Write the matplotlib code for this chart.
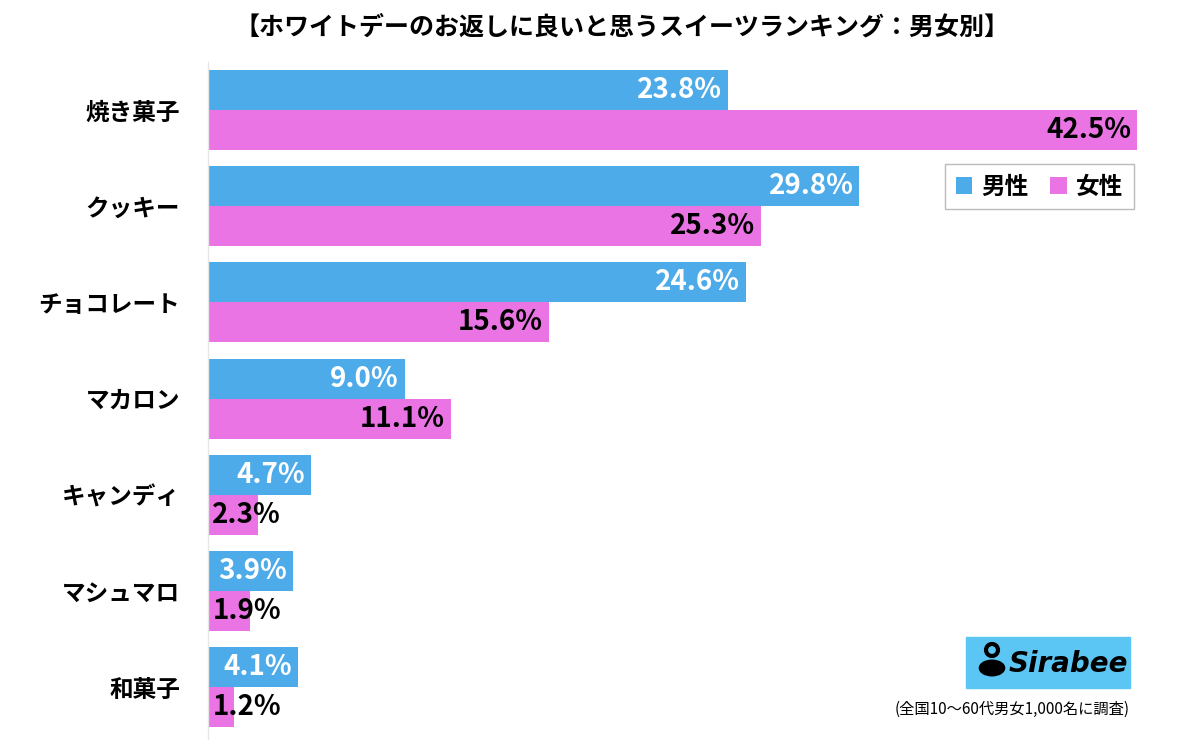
import matplotlib.pyplot as plt
import matplotlib.patches as mpatches
import numpy as np

plt.rcParams["font.family"] = ["Noto Sans CJK JP", "DejaVu Sans"]

categories = ["焼き菓子", "クッキー", "チョコレート", "マカロン", "キャンディ", "マシュマロ", "和菓子"]
male = [23.8, 29.8, 24.6, 9.0, 4.7, 3.9, 4.1]
female = [42.5, 25.3, 15.6, 11.1, 2.3, 1.9, 1.2]
series_names = ["男性", "女性"]

BLUE = "#4eabe9"
PINK = "#ea74e4"

W, H = 1200, 740
fig = plt.figure(figsize=(12, 7.4), dpi=100)

# axes area in pixels: x 208..1180, y 62..740
px_per_pct = (1137 - 208) / 42.5
ax_left, ax_right = 208, 1180
ax_top, ax_bot = 62, 740
ax = fig.add_axes([ax_left / W, 1 - ax_bot / H, (ax_right - ax_left) / W, (ax_bot - ax_top) / H])

pitch = 96.2
bar_h = 40 / pitch
y_top = -(110 - ax_top) / pitch
y_bot = (ax_bot - 110) / pitch
ax.set_ylim(y_bot, y_top)
ax.set_xlim(0, (ax_right - ax_left) / px_per_pct)

y = np.arange(len(categories))
ax.barh(y - bar_h / 2, male, height=bar_h, color=BLUE, label=series_names[0])
ax.barh(y + bar_h / 2, female, height=bar_h, color=PINK, label=series_names[1])

off = 6 / px_per_pct
for i, (m, f) in enumerate(zip(male, female)):
    ax.text(m - off, i - bar_h / 2, f"{m:.1f}%", ha="right", va="center",
            color="white", fontsize=20, fontweight="bold")
    if f >= 5:
        ax.text(f - off, i + bar_h / 2, f"{f:.1f}%", ha="right", va="center",
                color="black", fontsize=20, fontweight="bold")
    else:
        ax.text(0.2, i + bar_h / 2, f"{f:.1f}%", ha="left", va="center",
                color="black", fontsize=20, fontweight="bold")

ax.set_yticks(y)
ax.set_yticklabels(categories, fontsize=17, fontweight="bold")
ax.tick_params(axis="y", length=0, pad=20)
ax.set_xticks([])
for s in ["top", "right", "bottom"]:
    ax.spines[s].set_visible(False)
ax.spines["left"].set_color("#e6e6e6")
ax.spines["left"].set_linewidth(1.0)

leg = fig.legend(loc="upper right", bbox_to_anchor=(1134 / W, 1 - 164 / H),
                 ncol=2, prop={"weight": "bold", "size": 17},
                 handlelength=0.7, handleheight=0.7, handletextpad=0.4,
                 columnspacing=0.9, frameon=True, fancybox=False,
                 borderpad=0.45, borderaxespad=0)
leg.get_frame().set_edgecolor("#aaaaaa")
leg.get_frame().set_linewidth(1.0)

fig.text(622 / W, 1 - 27 / H, "【ホワイトデーのお返しに良いと思うスイーツランキング：男女別】",
         ha="center", va="center", fontsize=18, fontweight="bold")

# logo
fig.patches.append(mpatches.Rectangle((966 / W, 1 - 688 / H), 164 / W, 51 / H,
                                      transform=fig.transFigure, color="#5bc6f4", zorder=1))
fig.patches.append(mpatches.Circle((992 / W, 1 - 668 / H), 0.0105, transform=fig.transFigure,
                                   color="black", zorder=2))
fig.patches.append(mpatches.Ellipse((992 / W, 1 - 650 / H), 12 / W, 12 / H, transform=fig.transFigure,
                                    fill=False, edgecolor="black", linewidth=3, zorder=2))
fig.text(1009 / W, 1 - 664 / H, "Sirabee", ha="left", va="center", fontsize=20,
         fontweight="bold", fontstyle="italic", family="DejaVu Sans", color="black")

fig.text(1130 / W, 1 - 709 / H, "(全国10〜60代男女1,000名に調査)", ha="right", va="center",
         fontsize=11)

fig.savefig("out.png", dpi=100)
